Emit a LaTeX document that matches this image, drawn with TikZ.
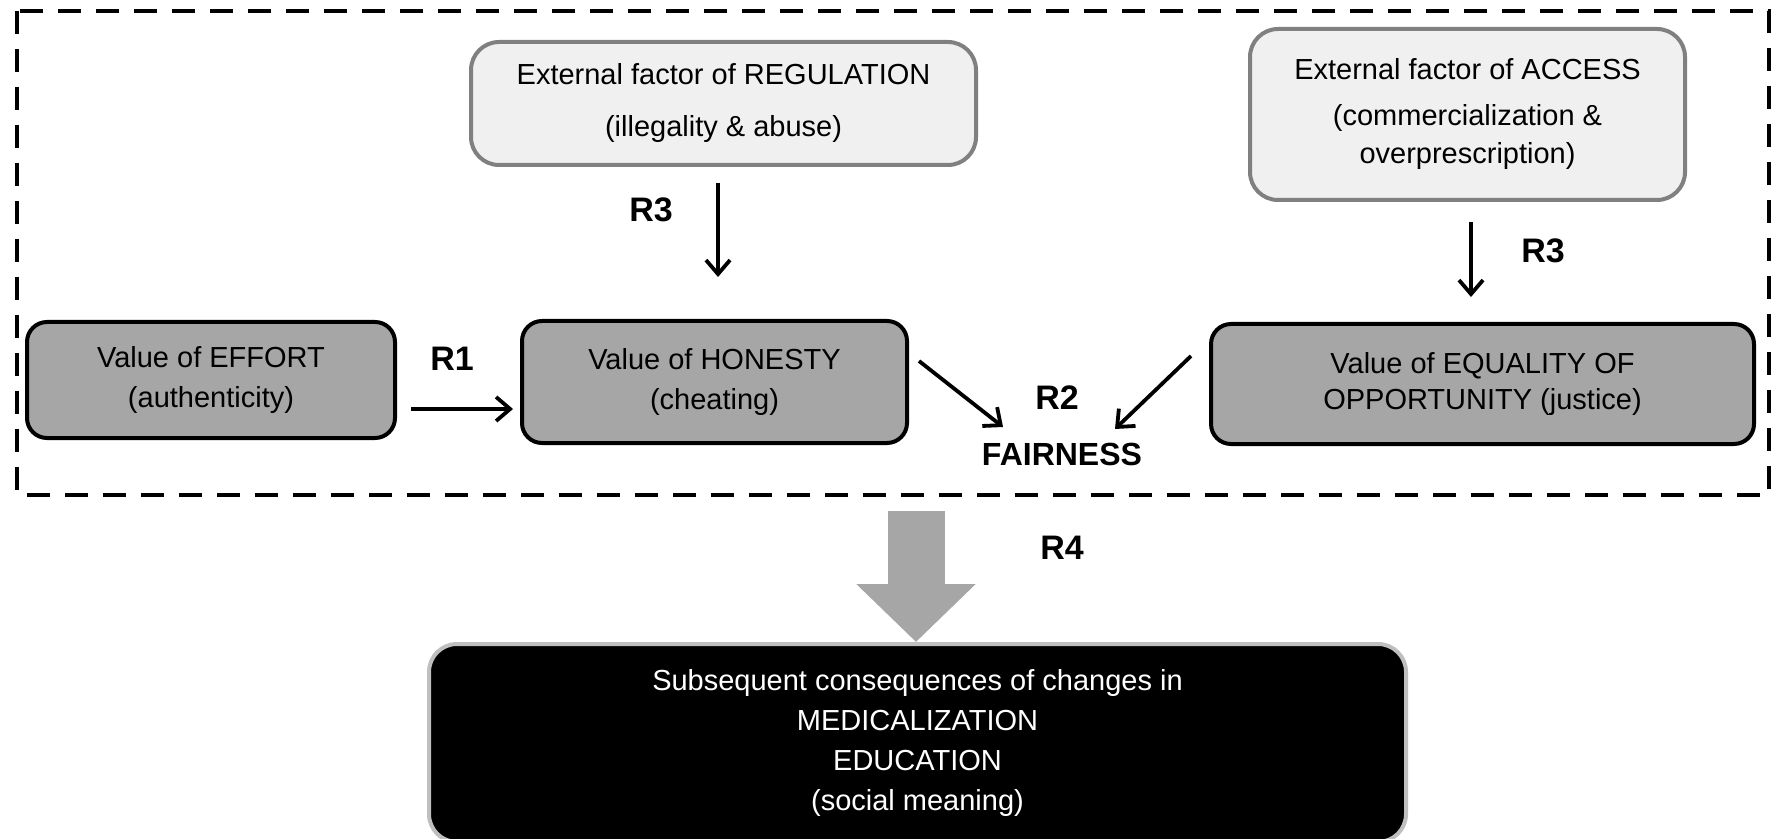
\documentclass[tikz,border=0pt]{standalone}
\usepackage{fontspec}
\setmainfont{Liberation Sans}
\usetikzlibrary{arrows.meta}

\definecolor{valuegray}{HTML}{A6A6A6}
\definecolor{factorfill}{HTML}{F0F0F0}
\definecolor{factordraw}{HTML}{808080}
\definecolor{consdraw}{HTML}{BFBFBF}

\begin{document}
\begin{tikzpicture}[
    x=0.5pt, y=-0.5pt,
    every node/.style = {
      align=center,
      inner sep=0pt,
      font=\fontsize{14.5}{20}\selectfont
    },
    valuebox/.style = {draw=black, line width=2pt, fill=valuegray,
      rounded corners=10pt},
    factorbox/.style = {draw=factordraw, line width=2pt, fill=factorfill,
      rounded corners=14pt},
    consbox/.style = {draw=consdraw, line width=2pt, fill=black,
      text=white, rounded corners=14pt},
    rlabel/.style = {font=\bfseries\fontsize{17}{17}\selectfont},
    arr/.style = {line width=1.9pt, -{Straight Barb[length=7pt,width=12pt]}},
    bigarr/.style = {draw=valuegray, line width=28.5pt,
      -{Triangle[length=29pt,width=58pt]}},
    frame/.style = {line width=2pt, dash pattern=on 11.5pt off 7.5pt}
  ]
    \useasboundingbox (0,0) rectangle (1771,839);

    % Dashed frame round the values
    \draw[frame] (17,11) rectangle (1769,495);

    % External factors
    \node[factorbox, minimum width=252.5pt, minimum height=61.5pt]
      (regulation) at (723.5,103.5)
      {External factor of REGULATION \\[6pt] (illegality \& abuse)};
    \node[factorbox, minimum width=217.5pt, minimum height=85.5pt]
      (access) at (1467.5,114.5)
      {External factor of ACCESS \\[3pt] (commercialization \& \\[-1pt] overprescription)};

    % Values
    \node[valuebox, minimum width=184pt, minimum height=58pt]
      (effort) at (211,380) {Value of EFFORT \\ (authenticity)};
    \node[valuebox, minimum width=192.5pt, minimum height=61pt]
      (honesty) at (714.5,382) {Value of HONESTY \\ (cheating)};
    \node[valuebox, minimum width=271.5pt, minimum height=60pt]
      (equality) at (1482.5,384)
      {Value of EQUALITY OF \\[-2pt] OPPORTUNITY (justice)};
    \node[font=\bfseries\fontsize{16}{16}\selectfont]
      (fairness) at (1062,454) {FAIRNESS};

    % Consequences
    \node[consbox, minimum width=488.5pt, minimum height=99pt]
      (consequences) at (917.5,743)
      {Subsequent consequences of changes in \\ MEDICALIZATION \\
       EDUCATION \\ (social meaning)};
    \coordinate (framebottom) at (916,511);

    % Relations
    \draw[arr] ([shift={(14,29)}]effort.east) -- ([shift={(-7,27)}]honesty.west);
    \node[rlabel] (r1) at (452,359) {R1};
    \draw[arr] ([shift={(-5.5,16)}]regulation.south) -- ([shift={(3.5,-42)}]honesty.north);
    \node[rlabel] (r3a) at (651,210) {R3};
    \draw[arr] ([shift={(3.5,20)}]access.south) -- ([shift={(-11.5,-25)}]equality.north);
    \node[rlabel] (r3b) at (1543,251) {R3};
    \draw[arr] ([shift={(10,-21)}]honesty.east) -- ([shift={(-59,-27)}]fairness.center);
    \draw[arr] ([shift={(-18,-28)}]equality.west) -- ([shift={(53,-25)}]fairness.center);
    \node[rlabel] (r2) at (1057,398) {R2};
    \draw[bigarr] (framebottom) -- (framebottom |- consequences.north);
    \node[rlabel] (r4) at (1062,548) {R4};
  \end{tikzpicture}
\end{document}
